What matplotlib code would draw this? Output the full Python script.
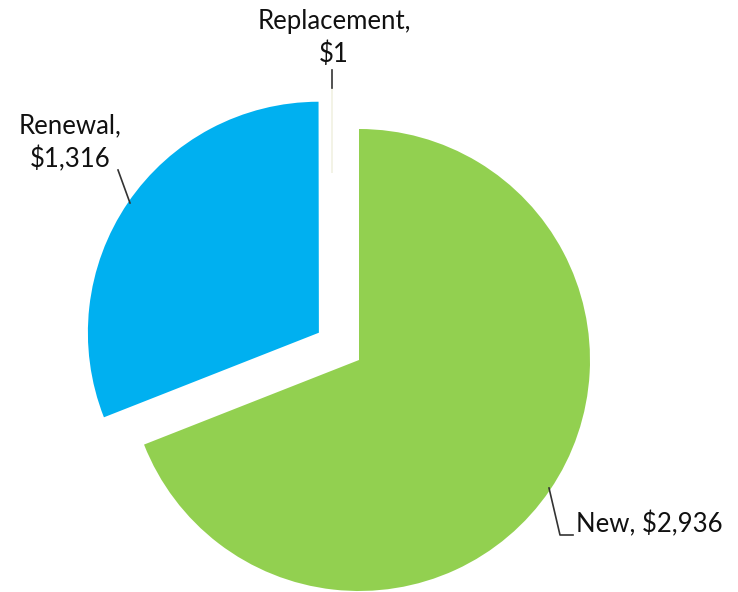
import numpy as np
import matplotlib.pyplot as plt

labels = ["New", "Renewal", "Replacement"]
values = [2936, 1316, 1]
colors = ["#92D050", "#00B0F0", "#F3F3E6"]
explode = [0.0, 0.21, 0.0]

W, H = 738, 592
r_px = 231.0          # pie radius in pixels
cx, cy = 359.0, 360.0  # green slice apex in pixels (from top)

fig = plt.figure(figsize=(W / 100, H / 100), dpi=100)
ax = fig.add_axes([0, 0, 1, 1])

wedges, _ = ax.pie(values, colors=colors, startangle=90, counterclock=False,
                   explode=explode, radius=1.0,
                   wedgeprops=dict(linewidth=0))

# tiny replacement slice sits as a thin pale sliver above the gap
rep = wedges[2]
rep.set_center(((332 - cx) / r_px, (cy - 173) / r_px))
rep.set_radius((173 - 88) / r_px)
rep.set_edgecolor(colors[2])
rep.set_linewidth(1.2)

ax.set_aspect("auto")
ax.set_xlim(-cx / r_px, (W - cx) / r_px)
ax.set_ylim(-(H - cy) / r_px, cy / r_px)
ax.axis("off")


def px(x, y):
    return ((x - cx) / r_px, (cy - y) / r_px)


font = dict(family="Lato", fontsize=18.5, color="#111111")

ax.text(*px(334, 38), "Replacement,\n$1", ha="center", va="center",
        linespacing=1.35, **font)
ax.plot(*zip(px(332, 70), px(332, 88)), color="#333333", lw=1.2)

ax.text(*px(70, 143), "Renewal,\n$1,316", ha="center", va="center",
        linespacing=1.35, **font)
ax.plot(*zip(px(118, 170), px(130, 203)), color="#333333", lw=1.2)

ax.text(*px(576, 524), "New, $2,936", ha="left", va="center", **font)
ax.plot(*zip(px(549, 488), px(560, 535), px(573, 535)), color="#333333", lw=1.2)

fig.savefig("out.png", dpi=100, facecolor="white")
